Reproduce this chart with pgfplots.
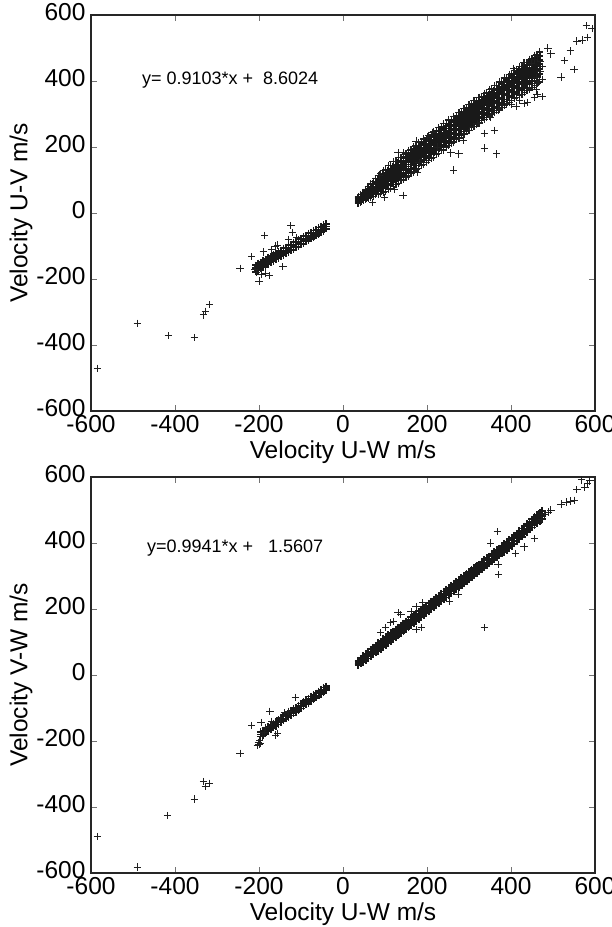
\documentclass[border=0pt]{standalone}
\usepackage{fontspec}
\setmainfont{Liberation Sans}
\usepackage{pgfplots}
\usepackage{pgfplotstable}
\pgfplotsset{compat=1.18}

% ---------- top plot: U-V vs U-W ----------
\pgfplotstableread{
x a b c d e f g
36 45 42 38 34 30 50 28
42 50 47 43 38 35 56 32
48 58 53 49 44 40 63 37
54 66 60 55 49 44 71 40
60 73 67 61 55 48 80 44
66 80 73 66 60 52 88 47
72 88 80 73 66 58 96 50
78 95 87 78 71 62 104 55
84 103 93 85 76 68 114 56
90 108 99 89 80 70 120 60
96 116 105 96 86 76 129 62
102 122 111 101 91 80 133 65
108 129 118 107 96 85 143 70
114 134 123 112 100 89 145 74
120 142 129 119 106 94 155 80
126 147 135 124 113 99 156 86
132 154 141 130 118 104 167 90
138 158 146 135 122 110 168 98
144 165 152 141 129 115 178 101
150 171 158 147 134 120 180 108
156 177 164 153 141 127 190 112
162 183 170 159 147 132 192 120
168 188 175 164 151 138 201 124
174 195 181 170 158 144 204 131
180 200 187 176 163 150 213 135
186 207 193 182 170 155 215 143
192 211 198 187 175 161 224 146
198 218 204 193 181 167 226 154
204 223 210 199 187 173 236 158
210 229 216 205 192 178 238 166
216 234 221 210 198 184 247 169
222 240 227 216 204 190 249 177
228 247 233 222 209 195 259 181
234 252 239 228 216 201 261 189
240 257 244 233 221 207 270 192
246 263 250 239 227 212 272 200
252 269 256 245 232 218 282 204
258 275 262 251 239 224 284 212
264 280 267 256 244 230 293 215
270 286 273 262 250 236 295 223
276 292 279 268 255 241 305 227
282 297 285 274 261 247 307 235
288 303 290 279 267 253 316 238
294 309 296 285 272 258 318 246
300 314 302 291 278 264 328 250
306 320 308 297 284 270 330 258
312 326 314 303 290 276 340 262
318 331 319 308 295 281 341 269
324 337 325 314 301 287 351 273
330 343 331 320 307 292 353 280
336 349 337 326 312 297 363 284
342 354 342 331 318 303 364 290
348 360 348 337 323 308 374 294
354 366 354 343 329 314 376 300
360 372 360 349 334 318 386 305
366 377 365 354 340 322 387 310
372 383 371 360 345 328 397 315
378 390 377 366 350 333 399 320
384 396 383 372 357 338 409 326
390 402 389 377 362 344 410 330
396 408 395 383 368 350 420 336
402 414 401 389 374 355 422 340
408 420 407 395 380 360 432 346
414 426 412 400 385 366 433 350
420 431 418 406 391 372 443 356
426 437 424 412 397 378 445 360
432 443 430 418 402 384 455 366
438 448 435 423 408 390 456 370
444 455 441 429 414 395 466 376
450 460 447 435 420 400 468 380
456 466 452 441 426 410 478 386
462 470 458 446 432 415 480 392
468 475 463 452 437 420 488 398
}\topband

\pgfplotstableread{
x a b c
-40 -33 -41 -48
-46 -36 -45 -55
-52 -41 -50 -59
-58 -44 -55 -64
-64 -50 -59 -69
-70 -53 -64 -73
-76 -59 -68 -78
-82 -62 -73 -83
-88 -68 -77 -87
-94 -71 -82 -92
-100 -77 -86 -96
-106 -80 -91 -101
-112 -86 -95 -105
-118 -89 -100 -110
-124 -95 -104 -114
-130 -98 -109 -119
-136 -104 -113 -123
-142 -107 -118 -128
-148 -113 -122 -132
-154 -116 -127 -137
-160 -122 -131 -141
-166 -125 -136 -146
-172 -131 -140 -150
-178 -134 -145 -155
-184 -140 -149 -159
-190 -143 -154 -164
-196 -149 -158 -168
-202 -152 -163 -173
-208 -158 -167 -178
}\topneg

\pgfplotstableread{
x y
-585 -470
-490 -334
-416 -372
-354 -377
-332 -309
-328 -298
-318 -278
-245 -167
-217 -133
-200 -206
-190 -118
-186 -68
-124 -39
-121 -59
-155 -97
-143 -163
-160 -100
-170 -112
-195 -185
-205 -180
-185 -182
-175 -190
-210 -172
-130 -80
-110 -75
86 115
131 182
214 245
119 155
174 218
202 230
145 182
143 54
98 48
71 33
122 70
178 124
181 152
257 182
276 179
264 130
286 221
336 197
366 179
336 242
360 251
579 567
593 558
557 521
569 524
583 533
541 491
527 461
550 436
519 412
488 500
495 482
474 352
460 373
440 336
407 439
431 333
412 324
369 312
464 473
471 458
455 466
448 452
475 445
470 430
460 410
466 395
450 380
474 405
420 445
430 455
462 360
455 350
420 340
400 330
380 320
350 290
320 270
300 250
310 262
290 240
240 190
225 200
}\topout

% ---------- bottom plot: V-W vs U-W ----------
\pgfplotstableread{
x a b c d
36 44 40 33 29
42 51 46 39 34
48 58 53 45 39
54 65 59 51 45
60 71 65 57 50
66 78 71 63 56
72 84 77 69 62
78 90 83 75 68
84 97 89 81 73
90 102 95 87 79
96 109 101 93 85
102 115 107 99 90
108 121 113 105 97
114 127 119 111 103
120 133 125 117 108
126 139 131 123 115
132 145 137 129 121
138 151 143 135 127
144 157 149 141 132
150 163 155 147 139
156 168 161 153 145
162 175 167 159 151
168 181 173 165 157
174 186 179 171 163
180 193 185 177 169
186 199 191 183 175
192 205 197 189 181
198 210 203 195 187
204 217 209 201 193
210 223 215 207 199
216 229 221 213 205
222 235 227 219 211
228 240 233 225 217
234 247 239 231 223
240 253 245 237 229
246 259 251 243 235
252 264 257 249 241
258 271 263 255 247
264 277 269 261 253
270 283 275 267 259
276 288 281 273 265
282 295 287 279 271
288 301 293 285 277
294 307 299 291 283
300 312 305 297 289
306 319 311 303 295
312 325 317 309 301
318 331 323 315 307
324 336 329 321 313
330 343 335 327 319
336 349 341 333 325
342 355 347 339 331
348 360 353 345 337
354 367 359 351 343
360 373 365 357 349
366 379 371 363 355
372 384 377 369 361
378 391 383 375 367
384 397 389 381 373
390 403 395 387 379
396 409 401 393 385
402 416 408 400 391
408 423 415 407 398
414 430 422 414 405
420 437 429 421 412
426 444 436 428 419
432 451 443 435 426
438 458 450 442 433
444 465 457 449 440
450 472 464 455 447
456 479 471 462 453
462 485 477 469 460
468 491 483 475 466
474 497 489 481 472
}\botband

\pgfplotstableread{
x a b c
-40 -34 -40 -46
-46 -38 -45 -52
-52 -44 -51 -58
-58 -49 -56 -63
-64 -55 -62 -69
-70 -60 -67 -74
-76 -65 -72 -79
-82 -71 -78 -85
-88 -76 -83 -90
-94 -82 -89 -96
-100 -87 -94 -101
-106 -92 -99 -106
-112 -98 -105 -112
-118 -103 -110 -117
-124 -109 -116 -123
-130 -114 -121 -128
-136 -119 -126 -133
-142 -125 -132 -139
-148 -130 -137 -144
-154 -136 -143 -150
-160 -141 -148 -155
-166 -146 -153 -160
-172 -152 -159 -166
-178 -157 -164 -171
-184 -163 -170 -177
-190 -168 -175 -182
-196 -173 -180 -187
}\botneg

\pgfplotstableread{
x y
-585 -489
-490 -582
-418 -426
-354 -376
-332 -323
-328 -338
-318 -328
-245 -237
-217 -153
-195 -144
-174 -110
-188 -174
-155 -177
-160 -182
-114 -68
-130 -110
-150 -130
-202 -204
-200 -210
-198 -198
-204 -214
-196 -206
-192 -186
-185 -160
-170 -140
-140 -115
131 189
138 183
114 159
90 128
162 192
174 207
190 219
102 143
121 162
174 137
186 143
253 222
274 243
336 143
567 591
588 588
583 579
576 567
557 561
550 530
541 527
531 524
519 518
495 500
490 494
367 434
455 413
431 388
410 367
371 304
369 334
352 400
480 485
472 470
}\botout

\pgfplotsset{
  velo/.style={
    width=504pt, height=396pt, scale only axis,
    xmin=-600, xmax=600, ymin=-600, ymax=600,
    xtick={-600,-400,...,600}, ytick={-600,-400,...,600},
    tick align=inside, major tick length=6pt,
    axis line style={line width=1.1pt, black!85},
    tick style={line width=0.8pt, black!55},
    /pgf/number format/assume math mode=true,
    ticklabel style={font=\fontsize{24.5}{28}\selectfont},
    label style={font=\fontsize{24.5}{28}\selectfont},
    xticklabel style={yshift=-1pt},
    yticklabel style={xshift=-2pt, yshift=3pt},
    xlabel style={yshift=-1pt},
    ylabel style={yshift=-3pt},
    clip=true,
  },
  pm/.style={only marks, mark=+, mark size=3.6pt, black!88, mark options={line width=0.95pt}},
  pmd/.style={only marks, mark=+, mark size=3.6pt, black!90, mark options={line width=1.9pt}},
  pme/.style={only marks, mark=+, mark size=3.6pt, black!88, mark options={line width=1.2pt}},
  pmn/.style={only marks, mark=+, mark size=3.6pt, black!90, mark options={line width=1.55pt}},
}

\begin{document}
\begin{tikzpicture}
\begin{axis}[velo, xlabel={Velocity U-W m/s}, ylabel={Velocity U-V m/s}]
\pgfplotsinvokeforeach{f,g}{\addplot[pme] table[x=x,y=#1]{\topband};}
\pgfplotsinvokeforeach{a,b,c,d,e}{\addplot[pmd] table[x=x,y=#1]{\topband};}
\pgfplotsinvokeforeach{a,b,c}{\addplot[pmn] table[x=x,y=#1]{\topneg};}
\addplot[pm] table[x=x,y=y]{\topout};
\node[anchor=west, font=\fontsize{18}{21}\selectfont, inner sep=0pt] at (axis cs:-479,403) {y= 0.9103*x +\ \ 8.6024};
\end{axis}
\begin{axis}[velo, at={(0pt,-462pt)}, xlabel={Velocity U-W m/s}, ylabel={Velocity V-W m/s}]
\pgfplotsinvokeforeach{a,b,c,d}{\addplot[pmd] table[x=x,y=#1]{\botband};}
\pgfplotsinvokeforeach{a,b,c}{\addplot[pmn] table[x=x,y=#1]{\botneg};}
\addplot[pm] table[x=x,y=y]{\botout};
\node[anchor=west, font=\fontsize{18}{21}\selectfont, inner sep=0pt] at (axis cs:-467,386) {y=0.9941*x +\ \ \ 1.5607};
\end{axis}
\pgfresetboundingbox
\path[use as bounding box] (-91pt,-516pt) rectangle (520pt,411pt);
\end{tikzpicture}
\end{document}
